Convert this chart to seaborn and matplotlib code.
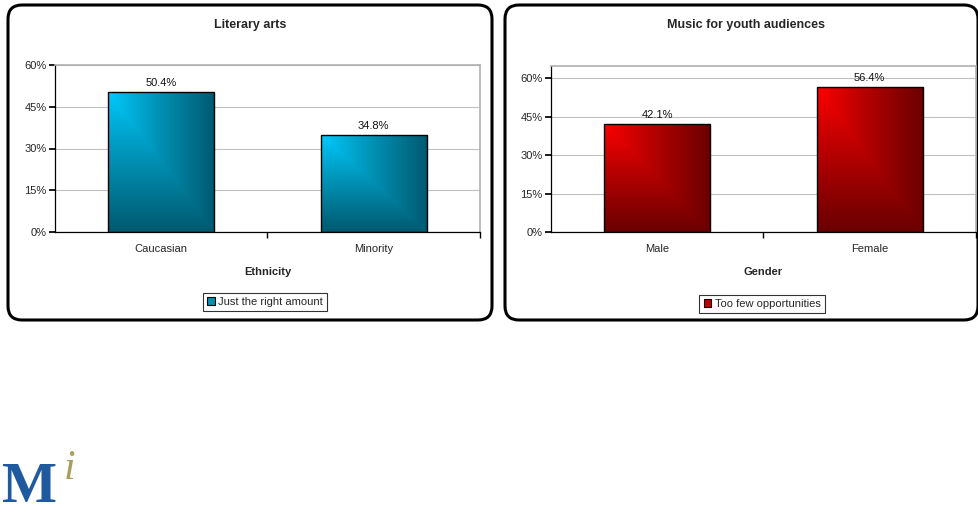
import numpy as np
import pandas as pd
import matplotlib
matplotlib.use("Agg")
import matplotlib.pyplot as plt
import seaborn as sns
from matplotlib.patches import FancyBboxPatch
from matplotlib.colors import LinearSegmentedColormap
from matplotlib.ticker import FuncFormatter, MultipleLocator

# ---- data ----
left_title = "Literary arts"
left_xlabel = "Ethnicity"
left_categories = ["Caucasian", "Minority"]
left_values = [0.504, 0.348]
left_legend = "Just the right amount"

right_title = "Music for youth audiences"
right_xlabel = "Gender"
right_categories = ["Male", "Female"]
right_values = [0.421, 0.564]
right_legend = "Too few opportunities"

sns.set_theme(style="white")
plt.rcParams['font.family'] = ['Liberation Sans', 'DejaVu Sans']

W, H = 979, 515
fig = plt.figure(figsize=(W / 100, H / 100), dpi=100)
fig.patch.set_facecolor("white")

bg = fig.add_axes([0, 0, 1, 1], zorder=-5)
bg.set_axis_off()
bg.set_xlim(0, W)
bg.set_ylim(H, 0)


def px_axes(l, t, r, b):
    return fig.add_axes([l / W, 1 - b / H, (r - l) / W, (b - t) / H], zorder=1)


def rounded_box(l, t, r, b):
    p = FancyBboxPatch((l, t), (r - l), (b - t),
                       boxstyle="round,pad=0,rounding_size=14",
                       facecolor="white", edgecolor="black", linewidth=2.2)
    bg.add_patch(p)


def gradient_bars(ax, bright, dark):
    cmap = LinearSegmentedColormap.from_list("g", [bright, dark])
    n = 200
    u = np.linspace(0, 1, n)
    U, V = np.meshgrid(u, u)
    M = np.maximum(U, V) ** 0.9
    for patch in ax.patches:
        x0, y0 = patch.get_x(), patch.get_y()
        w, h = patch.get_width(), patch.get_height()
        im = ax.imshow(M, cmap=cmap, extent=(x0, x0 + w, y0, y0 + h),
                       aspect="auto", origin="upper", zorder=2,
                       interpolation="bilinear")
        im.set_clip_path(patch)
        patch.set_zorder(2.5)
        patch.set_facecolor("none")
        patch.set_edgecolor("black")
        patch.set_linewidth(1.0)


def make_panel(ax, cats, vals, title, xlabel, legend_label, bright, dark,
               legend_color, ymax, title_x, leg_x, leg_y):
    df = pd.DataFrame({"cat": cats, "val": vals})
    sns.barplot(data=df, x="cat", y="val", ax=ax, color=legend_color,
                width=0.5, edgecolor="black", linewidth=1.0, zorder=2)
    gradient_bars(ax, bright, dark)
    ax.set_xlim(-0.5, 1.5)
    ax.set_ylim(0, ymax)
    ax.set_aspect("auto")
    ax.yaxis.set_major_locator(MultipleLocator(0.15))
    ax.yaxis.set_major_formatter(FuncFormatter(lambda v, p: f"{v*100:.0f}%"))
    ax.grid(axis="y", color="#c0c0c0", linewidth=0.8, zorder=0)
    ax.set_axisbelow(True)
    for s in ["top", "right"]:
        ax.spines[s].set_color("#b0b0b0")
        ax.spines[s].set_linewidth(1.2)
    for s in ["left", "bottom"]:
        ax.spines[s].set_color("black")
        ax.spines[s].set_linewidth(0.9)
    ax.set_xticks([0, 1])
    ax.set_xticklabels(cats, fontsize=8)
    ax.set_xticks([0.5, 1.5], minor=True)
    ax.tick_params(axis="x", which="major", length=0, pad=9)
    ax.tick_params(axis="x", which="minor", length=4, direction="out",
                   color="black", bottom=True)
    ax.tick_params(axis="y", labelsize=8, length=4, direction="out",
                   color="black", left=True, pad=2)
    ax.set_xlabel(xlabel, fontsize=8, fontweight="bold", labelpad=9)
    ax.set_ylabel("")
    for i, v in enumerate(vals):
        ax.text(i, v + ymax * 0.025, f"{v*100:.1f}%", ha="center",
                va="bottom", fontsize=8, color="#111111", zorder=4)
    fig.text(title_x / W, 1 - 25 / H, title, ha="center", va="center",
             fontsize=9, fontweight="bold")
    handle = plt.Rectangle((0, 0), 1, 1, facecolor=legend_color,
                           edgecolor="black", linewidth=0.8)
    leg = fig.legend([handle], [legend_label],
                     loc="center", bbox_to_anchor=(leg_x / W, 1 - leg_y / H),
                     fontsize=8, frameon=True, fancybox=False,
                     handlelength=0.7, handleheight=0.7, handletextpad=0.3,
                     borderpad=0.4, borderaxespad=0)
    leg.get_frame().set_edgecolor("black")
    leg.get_frame().set_linewidth(0.8)


rounded_box(8, 5, 492, 320)
rounded_box(505, 5, 978, 320)

axL = px_axes(55, 65, 480, 232)
make_panel(axL, left_categories, left_values, left_title, left_xlabel,
           left_legend, "#00CCFF", "#005A70", "#0090B0", 0.60,
           250, 265, 302)

axR = px_axes(551, 66, 976, 232)
make_panel(axR, right_categories, right_values, right_title, right_xlabel,
           right_legend, "#FF0000", "#6A0000", "#C00000", 0.647,
           746, 762, 304)

# logo
fig.text(2 / W, 1 - 514 / H, "M", fontsize=42, fontweight="bold",
         family=["Liberation Serif", "DejaVu Serif"], color="#1F5A9E",
         ha="left", va="bottom")
fig.text(64 / W, 1 - 479 / H, "i", fontsize=30, fontstyle="italic",
         family=["Liberation Serif", "DejaVu Serif"], color="#A89F5A",
         ha="left", va="baseline")

fig.savefig("out.png", dpi=100, facecolor="white")
